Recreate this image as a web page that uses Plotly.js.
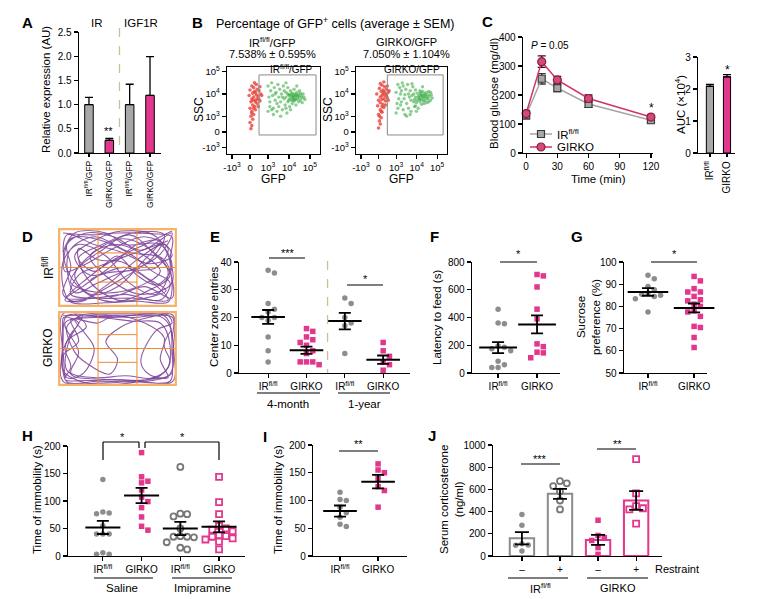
<!DOCTYPE html>
<html><head><meta charset="utf-8">
<script src="https://cdn.plot.ly/plotly-3.0.1.min.js"></script>
<style>html,body{margin:0;padding:0;background:#fff}#plot{width:760px;height:599px}</style>
</head><body><div id="plot"></div>
<script>
// ---------------- DATA ----------------
// A
const aLabels = ['IR<sup>fl/fl</sup>/GFP','GIRKO/GFP','IR<sup>fl/fl</sup>/GFP','GIRKO/GFP'];
const aValues = [1.0, 0.26, 1.0, 1.19];
const aErrors = [0.15, 0.04, 0.42, 0.80];
const aGroups = ['IR','IGF1R'];
// B (display units of biexponential scale)
const bTickText = ['-10<sup>3</sup>','0','10<sup>3</sup>','10<sup>4</sup>','10<sup>5</sup>'];
const bSubtitles = ['IR<sup>fl/fl</sup>/GFP','GIRKO/GFP'];
const bPercent = ['7.538% ± 0.595%','7.050% ± 1.104%'];
const bIrGreen = [[1.0,2.9],[1.05,2.2],[1.1,1.6],[1.0,1.3],[1.15,2.6],[1.2,3.1],[1.1,1.9],[1.25,2.3],[1.3,1.5],[1.35,2.8],[1.4,2.0],[1.3,1.1],[1.45,2.5],[1.5,1.8],[1.55,3.0],[1.6,2.2],[1.5,1.3],[1.65,2.7],[1.7,1.9],[1.75,2.4],[1.8,1.4],[1.85,2.9],[1.9,2.1],[1.95,1.7],[2.0,2.5],[2.0,2.2],[2.05,1.2],[2.1,2.8],[2.1,1.9],[2.15,2.35],[2.2,2.1],[2.2,1.6],[2.25,2.6],[2.3,2.25],[2.3,2.0],[2.35,1.8],[2.35,2.45],[2.4,2.15],[2.4,2.3],[2.45,1.95],[2.45,2.7],[2.5,2.2],[2.5,2.4],[2.55,2.05],[2.55,1.7],[2.6,2.3],[2.6,2.5],[2.65,2.1],[2.7,2.35],[2.7,1.9],[2.75,2.2],[2.8,2.45],[2.8,2.0],[2.85,2.3],[2.9,2.15],[2.95,2.4],[3.0,2.2],[3.05,2.05],[2.0,3.1],[1.7,1.0],[2.6,2.9],[2.25,1.4],[1.9,2.6],[2.15,2.0],[2.3,2.4],[2.45,2.25],[2.4,2.0],[2.2,2.3],[2.35,2.15],[2.5,2.05],[2.55,2.35],[2.65,2.25],[2.1,2.4],[1.6,1.6],[1.2,1.4],[1.4,2.4],[2.75,2.6],[2.9,1.85],[2.0,1.5],[1.8,2.2]];
const bIrRed = [[0.05,0.2],[0.1,0.4],[0.0,0.6],[0.15,0.8],[0.05,1.0],[0.2,1.1],[0.1,1.3],[0.3,1.4],[0.0,1.5],[0.25,1.6],[0.15,1.7],[0.4,1.8],[0.05,1.9],[0.3,2.0],[0.5,2.05],[0.1,2.1],[0.2,2.2],[0.45,2.25],[-0.05,2.3],[0.35,2.35],[0.6,2.4],[0.15,2.45],[0.25,2.55],[0.5,2.6],[0.0,2.65],[0.4,2.7],[0.2,2.8],[0.55,2.85],[0.1,2.9],[0.35,3.0],[0.25,3.1],[0.3,1.9],[0.2,1.5],[0.1,1.2],[0.4,2.1],[0.55,1.95],[0.65,2.3],[0.3,2.5],[0.15,2.0],[0.45,1.6]];
const bGkGreen = [[1.0,2.5],[1.05,1.8],[1.1,3.0],[1.0,1.2],[1.15,2.1],[1.2,2.8],[1.1,1.5],[1.25,2.4],[1.3,1.9],[1.35,3.1],[1.4,1.4],[1.3,2.6],[1.45,2.1],[1.5,1.1],[1.55,2.7],[1.6,1.8],[1.5,2.35],[1.65,3.0],[1.7,1.5],[1.75,2.2],[1.8,2.6],[1.85,1.3],[1.9,2.3],[1.95,2.85],[2.0,1.9],[2.0,2.4],[2.05,1.6],[2.1,2.2],[2.1,2.65],[2.15,1.85],[2.2,2.45],[2.2,2.0],[2.25,1.5],[2.3,2.3],[2.3,2.1],[2.35,2.6],[2.35,1.9],[2.4,2.4],[2.4,2.2],[2.45,2.05],[2.45,1.75],[2.5,2.3],[2.5,2.55],[2.55,2.15],[2.55,1.95],[2.6,2.4],[2.6,2.2],[2.65,2.0],[2.7,2.5],[2.7,2.25],[2.75,1.85],[2.8,2.35],[2.8,2.1],[2.85,2.55],[2.9,2.25],[2.95,2.0],[3.0,2.35],[3.05,2.15],[1.9,3.05],[1.6,1.0],[2.5,2.85],[2.15,1.3],[1.85,2.0],[2.25,2.2],[2.4,2.5],[2.45,2.3],[2.35,2.05],[2.6,1.8],[2.65,2.35],[2.75,2.15],[2.05,2.05],[1.7,2.4],[1.25,1.7],[1.4,2.9],[2.85,1.9],[2.95,2.5],[2.1,1.65],[1.8,1.1]];
const bGkRed = [[0.0,0.25],[0.1,0.5],[0.05,0.7],[0.15,0.9],[0.0,1.1],[0.2,1.25],[0.1,1.4],[0.3,1.55],[-0.05,1.65],[0.25,1.75],[0.1,1.85],[0.4,1.95],[0.0,2.0],[0.3,2.1],[0.5,2.15],[0.1,2.2],[0.2,2.3],[0.45,2.35],[-0.1,2.4],[0.35,2.45],[0.55,2.5],[0.15,2.55],[0.25,2.65],[0.45,2.7],[0.05,2.75],[0.35,2.85],[0.2,2.95],[0.5,2.9],[0.1,3.05],[0.3,3.15],[0.2,1.6],[0.15,1.3],[0.05,1.0],[0.4,2.25],[0.55,2.0],[0.6,2.6],[0.3,2.55],[0.2,2.05],[0.4,1.7],[0.25,2.4]];
// C
const cTime = [0, 15, 30, 60, 120];
const cIR = [130, 256, 224, 169, 113];
const cIRerr = [12, 18, 12, 12, 10];
const cGK = [136, 315, 252, 188, 124];
const cGKerr = [10, 20, 12, 12, 8];
const cNames = ['IR<sup>fl/fl</sup>','GIRKO'];
const cAUC = [2.08, 2.38];
const cAUCerr = [0.06, 0.07];
// D (open field tracks, arena units 3 x 2)
const dIRpath = [[0.1,1.9],[0.8,1.85],[1.5,1.9],[2.4,1.88],[2.9,1.8],[2.85,1.2],[2.9,0.4],[2.8,0.1],[2.0,0.12],[1.2,0.08],[0.3,0.1],[0.1,0.5],[0.12,1.2],[0.5,1.6],[1.2,1.3],[1.8,0.6],[2.5,0.3],[2.8,0.9],[2.3,1.5],[1.6,1.75],[0.9,1.4],[0.4,0.8],[0.8,0.3],[1.5,0.5],[2.1,1.1],[2.6,1.7],[2.0,1.6],[1.3,1.0],[0.6,0.5],[0.2,0.2],[0.9,0.2],[1.7,0.3],[2.6,0.15],[2.85,0.6],[2.4,0.9],[1.9,1.3],[1.1,1.7],[0.3,1.75],[0.15,0.9],[0.7,1.1],[1.4,1.5],[2.2,1.8],[2.8,1.5],[2.5,1.0],[1.7,0.9],[1.0,0.6],[0.4,0.35],[0.25,1.4],[0.9,1.8],[1.8,1.4],[2.7,1.2],[2.9,0.2],[2.2,0.5],[1.3,0.25],[0.6,0.9],[0.5,1.5],[1.0,1.2],[1.6,1.15],[2.3,0.7],[2.75,0.4],[2.2,0.2],[1.5,0.15],[0.8,0.65],[1.2,0.85],[1.9,0.95],[2.6,1.35],[2.9,1.9],[2.1,1.45],[1.4,1.8],[0.7,1.9],[0.2,1.6],[0.3,1.0],[0.1,0.3],[0.5,0.1],[1.1,0.4],[1.6,0.7],[2.4,1.25],[2.7,1.85],[1.9,1.9],[1.0,1.55],[0.5,1.25],[0.9,0.9],[1.5,1.3],[2.0,0.8],[2.5,0.55],[2.9,1.0],[2.6,1.6],[1.7,1.6],[1.2,1.9],[0.4,1.9],[0.1,1.4]];
const dIRpath2 = [[2.9,1.95],[2.2,1.6],[1.4,1.2],[0.7,0.7],[0.15,0.15],[0.6,0.15],[1.3,0.6],[2.0,1.2],[2.7,1.6],[2.9,1.3],[2.3,1.1],[1.6,1.4],[0.9,1.6],[0.2,1.85],[0.15,1.1],[0.6,0.4],[1.4,0.1],[2.3,0.4],[2.85,0.8],[2.4,1.4],[1.8,1.85],[1.1,1.45],[0.5,1.0],[0.3,0.6],[1.0,0.35],[1.9,0.45],[2.6,0.9],[2.2,1.3],[1.5,1.6],[0.8,1.3],[1.3,0.7],[2.1,0.3],[2.9,0.6],[2.5,1.8],[1.6,1.95],[0.9,1.7],[0.4,1.3],[0.8,0.8],[1.7,1.0],[2.4,0.6],[2.8,0.15],[1.9,0.2],[1.1,0.2],[0.3,0.3],[0.5,0.8],[1.2,1.1],[2.0,1.4],[2.8,1.7]];
const dGKpath = [[0.1,1.9],[0.8,1.92],[1.6,1.9],[2.5,1.92],[2.92,1.85],[2.9,1.2],[2.92,0.5],[2.85,0.1],[2.0,0.08],[1.0,0.1],[0.2,0.08],[0.08,0.6],[0.1,1.3],[0.12,1.85],[0.5,1.7],[0.3,1.4],[0.15,1.0],[0.3,0.5],[0.15,0.15],[0.7,0.12],[1.5,0.15],[2.4,0.12],[2.88,0.3],[2.9,0.9],[2.85,1.6],[2.6,1.88],[1.9,1.85],[1.2,1.88],[0.4,1.8],[0.6,1.5],[0.9,1.0],[0.6,0.3],[0.2,0.2],[0.1,0.8],[0.5,1.2],[0.3,1.8],[1.0,1.7],[1.4,1.9],[2.2,1.7],[2.7,1.3],[2.6,0.7],[2.8,0.2],[2.3,0.3],[2.1,0.65],[2.5,1.5],[2.9,1.7],[2.75,1.95],[2.0,1.95],[1.0,1.95],[0.1,1.95],[0.08,1.0],[0.1,0.1],[1.0,0.05],[2.0,0.1],[2.92,0.1],[2.94,1.0],[2.92,1.92],[2.3,1.85],[1.6,1.6],[1.2,1.2],[1.5,0.7],[1.3,0.3],[0.7,0.6],[0.4,0.9],[0.2,1.6],[0.6,1.9],[0.25,1.2],[0.2,0.4],[0.9,0.2],[1.7,0.25],[2.5,0.2],[2.85,0.6],[2.7,1.1],[2.88,1.5]];
const dGKpath2 = [[0.15,0.2],[0.1,1.5],[0.2,1.9],[1.3,1.85],[2.7,1.9],[2.9,1.4],[2.85,0.3],[2.3,0.15],[1.2,0.15],[0.3,0.3],[0.5,0.9],[0.15,1.7],[0.9,1.85],[1.9,1.75],[2.6,1.7],[2.85,1.1],[2.75,0.4],[1.8,0.05],[0.6,0.08],[0.1,0.4],[0.2,1.2],[0.7,1.6],[0.4,1.95]];
// E
const eLabels = ['IR<sup>fl/fl</sup>','GIRKO','IR<sup>fl/fl</sup>','GIRKO'];
const eIR4 = [37, 36, 25, 23, 22, 20, 20, 19, 13, 8, 4];
const eGK4 = [16, 15, 13, 12, 11, 10, 8, 7, 4, 4, 4, 3];
const eIR1 = [27, 25, 20, 18, 17, 7];
const eGK1 = [11, 8, 6, 4, 3, 1];
const eMean = [20.2, 8.2, 18.7, 4.8];
const eSem = [2.5, 1.3, 3.0, 1.5];
const eGroups = ['4-month','1-year'];
// F
const fLabels = ['IR<sup>fl/fl</sup>','GIRKO'];
const fIR = [460, 360, 355, 195, 185, 175, 160, 85, 60, 40, 40];
const fGK = [710, 700, 620, 460, 390, 210, 190, 150, 145, 110];
const fMean = [183, 350];
const fSem = [40, 65];
// G
const gIR = [94, 92.5, 89, 87.5, 86, 85.5, 85, 84.5, 83.5, 77.5];
const gGK = [93.5, 91.5, 88, 86.5, 86.5, 84.5, 83, 82.5, 81, 80, 78, 77.5, 75.5, 71, 70.5, 66, 61.5];
const gMean = [86.5, 79.3];
const gSem = [1.7, 2.0];
// H
const hIRsal = [139, 80, 78, 77, 55, 40, 40, 40, 6, 3, 3];
const hGKsal = [188, 144, 136, 133, 120, 107, 99, 88, 71, 54, 47];
const hIRimi = [162, 77, 76, 72, 50, 36, 35, 35, 34, 25, 15, 12];
const hGKimi = [144, 98, 76, 55, 50, 48, 45, 38, 36, 35, 32, 30, 26, 12];
const hMean = [52, 110, 50, 53];
const hSem = [12, 14, 12, 10];
const hGroups = ['Saline','Imipramine'];
// I
const iIR = [115, 102, 100, 88, 78, 70, 57, 53];
const iGK = [166, 155, 150, 140, 125, 118, 88];
const iMean = [81, 134];
const iSem = [10, 12];
// J
const jLabels = ['–','+','–','+'];
const jIRminus = [373, 277, 111, 100, 96, 45];
const jIRplus = [675, 655, 630, 580, 500, 420];
const jGKminus = [322, 185, 165, 140, 75, 15];
const jGKplus = [873, 565, 450, 430, 420, 292];
const jMean = [160, 560, 145, 500];
const jSem = [55, 45, 45, 85];
const jGroups = ['IR<sup>fl/fl</sup>','GIRKO'];

// ---------------- BUILD ----------------
const FONT = 'Liberation Sans, Arial, Helvetica, sans-serif';
const W = 760, H = 599;
const BARGRAY = '#a8a8a8', PINK = '#E2378D', DOTGRAY = '#8d8d8d';
const traces = [], annotations = [], shapes = [];
const layout = {width:W, height:H, margin:{l:0,r:0,t:0,b:0}, paper_bgcolor:'#fff', plot_bgcolor:'rgba(0,0,0,0)',
  font:{family:FONT, size:10, color:'#000'}, showlegend:false, annotations, shapes};
let nAx = 0;
function axes(x0, x1, xr, ytop, ybot, yr, xo, yo) {
  nAx++;
  const s = nAx === 1 ? '' : String(nAx);
  const base = {showline:true, linecolor:'#000', linewidth:1.3, ticks:'outside', ticklen:4, tickwidth:1.2, tickcolor:'#000',
    showgrid:false, zeroline:false, fixedrange:true, tickfont:{family:FONT, size:10, color:'#000'}};
  layout['xaxis'+s] = Object.assign({}, base, {domain:[x0/W, x1/W], range:xr, anchor:'y'+s}, xo||{});
  layout['yaxis'+s] = Object.assign({}, base, {domain:[1-ybot/H, 1-ytop/H], range:yr, anchor:'x'+s}, yo||{});
  return {x:'x'+s, y:'y'+s, sx:(x1-x0)/(xr[1]-xr[0]), sy:(ybot-ytop)/(yr[1]-yr[0])};
}
function txt(t, x, y, o) {
  const a = Object.assign({text:t, x:x/W, y:1-y/H, xref:'paper', yref:'paper', showarrow:false, xanchor:'center', yanchor:'middle'}, o||{});
  a.font = Object.assign({family:FONT, size:11, color:'#000'}, (o&&o.font)||{});
  annotations.push(a);
}
function ln(x0, y0, x1, y1, o) {
  shapes.push(Object.assign({type:'line', xref:'paper', yref:'paper', x0:x0/W, y0:1-y0/H, x1:x1/W, y1:1-y1/H, line:{color:'#000', width:1.2}}, o||{}));
}
function swarm(vals, center, sx, sy, d) {
  const placed = [], xs = new Array(vals.length);
  const order = vals.map((v,i)=>i).sort((a,b)=>vals[b]-vals[a]);
  for (const i of order) {
    const py = vals[i]*sy;
    let off = 0;
    for (let k = 0; k < 40; k++) {
      off = k === 0 ? 0 : (k % 2 ? 1 : -1) * Math.ceil(k/2) * d;
      if (placed.every(p => Math.hypot(p.x-off, p.y-py) >= d*0.95)) break;
    }
    placed.push({x:off, y:py});
    xs[i] = center + off/sx;
  }
  return xs;
}
function dots(ax, vals, pos, marker) {
  const d = (marker.size||5.5) + 0.8;
  traces.push({type:'scatter', mode:'markers', x:swarm(vals, pos, ax.sx, ax.sy, d), y:vals, xaxis:ax.x, yaxis:ax.y,
    marker:marker, showlegend:false, hoverinfo:'skip', cliponaxis:false});
}
function meanSem(ax, pos, means, sems, w) {
  traces.push({type:'scatter', mode:'markers', x:pos, y:means, xaxis:ax.x, yaxis:ax.y,
    marker:{symbol:'line-ew', size:w, color:'#000', line:{width:2, color:'#000'}},
    error_y:{type:'data', array:sems, visible:true, color:'#000', thickness:1.8, width:6},
    showlegend:false, hoverinfo:'skip', cliponaxis:false});
}
const filledGray = {symbol:'circle', size:5.5, color:DOTGRAY};
const filledPink = {symbol:'square', size:5.5, color:PINK};
const openGray = {symbol:'circle-open', size:6, color:'#777', line:{width:1.8, color:'#777'}};
const openPink = {symbol:'square-open', size:6, color:PINK, line:{width:1.8, color:PINK}};

// ---- Panel letters
[['A',28,23],['B',198,23],['C',487,22],['D',28,237],['E',215,237],['F',435,237],['G',577,237],['H',28,435],['I',265,436],['J',432,435]]
  .forEach(l => txt('<b>'+l[0]+'</b>', l[1], l[2], {font:{size:15}}));

// ---- A
const axA = axes(79, 161, [-0.49, 3.54], 32, 153, [0, 2.5],
  {tickvals:[0,1,2,3], ticktext:aLabels, tickangle:-90, ticklen:3, tickfont:{family:FONT,size:8.5,color:'#000'}},
  {tickvals:[0,0.5,1,1.5,2,2.5], tickformat:'.1f'});
traces.push({type:'bar', x:[0,1,2,3], y:aValues, width:0.42, xaxis:axA.x, yaxis:axA.y,
  marker:{color:[BARGRAY,PINK,BARGRAY,PINK], line:{color:'#000', width:1}},
  error_y:{type:'data', symmetric:false, array:aErrors, arrayminus:[0,0,0,0], color:'#000', thickness:1.3, width:4},
  showlegend:false, hoverinfo:'skip'});
shapes.push({type:'line', xref:axA.x, yref:'paper', x0:1.5, x1:1.5, y0:1-28/H, y1:1-153/H, line:{color:'#c9c09a', width:1.3, dash:'dash'}});
txt(aGroups[0], 97, 23, {font:{size:11.5}});
txt(aGroups[1], 141, 23, {font:{size:11.5}});
txt('**', 108, 131, {font:{size:11}});
txt('Relative expression (AU)', 46, 90, {textangle:-90, font:{size:11.5}});

// ---- B
const bxTicks = [-1, 0, 1, 2.17, 3.33], byTicks = [-1, 0, 0.97, 2.4, 3.8];
function flow(x0, x1, green, red, sub, pct, cx) {
  const ax = axes(x0, x1, [-1.28, 3.89], 67, 154, [-1.39, 4.1],
    {tickvals:bxTicks, ticktext:bTickText, mirror:true, tickfont:{family:FONT,size:9.5,color:'#000'}},
    {tickvals:byTicks, ticktext:bTickText, mirror:true, tickfont:{family:FONT,size:9.5,color:'#000'}});
  traces.push({type:'scatter', mode:'markers', x:red.map(p=>p[0]), y:red.map(p=>p[1]), xaxis:ax.x, yaxis:ax.y,
    marker:{size:3.6, color:'#e8453c', opacity:0.8}, showlegend:false, hoverinfo:'skip'});
  traces.push({type:'scatter', mode:'markers', x:green.map(p=>p[0]), y:green.map(p=>p[1]), xaxis:ax.x, yaxis:ax.y,
    marker:{size:3.4, color:'#3fae49', opacity:0.6}, showlegend:false, hoverinfo:'skip'});
  shapes.push({type:'rect', xref:ax.x, yref:ax.y, x0:0.5, x1:3.67, y0:-0.19, y1:3.6, line:{color:'#8a8a8a', width:1}});
  annotations.push({text:sub, xref:ax.x, yref:ax.y, x:3.62, y:3.45, xanchor:'right', yanchor:'bottom', showarrow:false, font:{family:FONT,size:10,color:'#000'}});
  txt(sub, cx, 42, {font:{size:11}});
  txt(pct, cx, 54, {font:{size:11}});
  txt('GFP', (x0+x1)/2, 179, {font:{size:12}});
  txt('SSC', x0-28, 110, {textangle:-90, font:{size:12}});
}
flow(227, 320, bIrGreen, bIrRed, bSubtitles[0], bPercent[0], 272);
flow(356, 447, bGkGreen, bGkRed, bSubtitles[1], bPercent[1], 406);
txt('Percentage of GFP<sup>+</sup> cells (average ± SEM)', 335, 23, {font:{size:12.5}});

// ---- C
const axC = axes(523, 653, [-3, 122], 37, 153, [0, 400], {tickvals:[0,30,60,90,120]}, {tickvals:[0,100,200,300,400]});
const cStyles = [
  {line:{color:'#a5a5a5', width:1.5}, marker:{symbol:'square', size:7, color:'#a8a8a8', line:{color:'#3a3a3a', width:1.2}}, err:'#333'},
  {line:{color:'#d1336c', width:1.5}, marker:{symbol:'circle', size:8, color:'#d4497c', line:{color:'#8e1d45', width:1.2}}, err:'#3a1020'}];
[[cIR, cIRerr], [cGK, cGKerr]].forEach((s, i) => {
  traces.push({type:'scatter', mode:'lines+markers', name:cNames[i], x:cTime, y:s[0], xaxis:axC.x, yaxis:axC.y,
    line:cStyles[i].line, marker:cStyles[i].marker,
    error_y:{type:'data', array:s[1], color:cStyles[i].err, thickness:1.3, width:4}, hoverinfo:'skip', cliponaxis:false, showlegend:false});
});
// manual legend (compact)
const axL = axes(530, 552, [0, 1], 128, 153, [0, 1], {visible:false}, {visible:false});
[0.76, 0.24].forEach((yy, i) => {
  traces.push({type:'scatter', mode:'lines', x:[0,1], y:[yy,yy], xaxis:axL.x, yaxis:axL.y, line:cStyles[i].line, showlegend:false, hoverinfo:'skip', cliponaxis:false});
  traces.push({type:'scatter', mode:'markers', x:[0.5], y:[yy], xaxis:axL.x, yaxis:axL.y, marker:cStyles[i].marker, showlegend:false, hoverinfo:'skip', cliponaxis:false});
  txt(cNames[i], 555, i === 0 ? 134 : 147, {xanchor:'left', font:{size:11.5}});
});
txt('<i>P</i> = 0.05', 550, 45, {font:{size:10}});
txt('*', 651, 108, {font:{size:12}});
txt('Blood glucose (mg/dl)', 494, 94, {textangle:-90, font:{size:11.5}});
txt('Time (min)', 598, 179, {font:{size:11.5}});
const axC2 = axes(698, 735, [-0.7, 1.47], 57, 153, [0, 3],
  {tickvals:[0,1], ticktext:cNames, tickangle:-90, ticklen:3, tickfont:{family:FONT,size:10,color:'#000'}},
  {tickvals:[0,1,2,3]});
traces.push({type:'bar', x:[0,1], y:cAUC, width:0.42, xaxis:axC2.x, yaxis:axC2.y,
  marker:{color:[BARGRAY,PINK], line:{color:'#000', width:1}},
  error_y:{type:'data', symmetric:false, array:cAUCerr, arrayminus:[0,0], color:'#000', thickness:1.3, width:4},
  showlegend:false, hoverinfo:'skip'});
txt('*', 727, 70, {font:{size:12}});
txt('AUC (×10<sup>4</sup>)', 680, 105, {textangle:-90, font:{size:11.5}});

// ---- D
function arena(ytop, ybot, paths) {
  const ax = axes(58, 177, [-0.03, 3.03], ytop, ybot, [-0.03, 2.03], {visible:false}, {visible:false});
  paths.forEach(path => traces.push({type:'scatter', mode:'lines', x:path.map(p=>p[0]), y:path.map(p=>p[1]), xaxis:ax.x, yaxis:ax.y,
    line:{color:'#7a3d96', width:1.1, shape:'spline', smoothing:1.0}, opacity:0.85, showlegend:false, hoverinfo:'skip'}));
  const oc = '#ee8a30';
  [[1,0,1,2],[2,0,2,2],[0,1,3,1],[1,0.62,2,0.62],[1,1.38,2,1.38]].forEach(s =>
    shapes.push({type:'line', xref:ax.x, yref:ax.y, x0:s[0], y0:s[1], x1:s[2], y1:s[3], line:{color:oc, width:1}}));
  shapes.push({type:'rect', xref:ax.x, yref:ax.y, x0:0, x1:3, y0:0, y1:2, line:{color:'#f6b267', width:2.2}});
}
arena(228, 307, [dIRpath, dIRpath2]);
arena(311, 386, [dGKpath, dGKpath2]);
txt('IR<sup>fl/fl</sup>', 48, 268, {textangle:-90, font:{size:12}});
txt('GIRKO', 48, 348, {textangle:-90, font:{size:12}});

// ---- E
const axE = axes(239, 410, [-0.76, 3.7], 262, 373, [0, 40], {tickvals:[0,1,2,3], ticktext:eLabels}, {tickvals:[0,10,20,30,40]});
dots(axE, eIR4, 0, filledGray); dots(axE, eGK4, 1, filledPink);
dots(axE, eIR1, 2, filledGray); dots(axE, eGK1, 3, filledPink);
meanSem(axE, [0,1,2,3], eMean, eSem, 24);
shapes.push({type:'line', xref:axE.x, yref:'paper', x0:1.55, x1:1.55, y0:1-261/H, y1:1-373/H, line:{color:'#c9c09a', width:1.3, dash:'dash'}});
txt('***', 288, 253, {font:{size:11}}); ln(269, 258, 305, 258);
txt('*', 365, 279, {font:{size:11}}); ln(347, 285, 383, 285);
ln(257, 393, 320, 393); ln(338, 393, 390, 393);
txt(eGroups[0], 288, 404, {font:{size:11.5}}); txt(eGroups[1], 364, 404, {font:{size:11.5}});
txt('Center zone entries', 214, 317, {textangle:-90, font:{size:11.5}});

// ---- F
const axF = axes(472, 560, [-0.67, 1.59], 262, 373, [0, 800], {tickvals:[0,1], ticktext:fLabels}, {tickvals:[0,200,400,600,800]});
dots(axF, fIR, 0, filledGray); dots(axF, fGK, 1, filledPink);
meanSem(axF, [0,1], fMean, fSem, 27);
txt('*', 518, 254, {font:{size:11}}); ln(500, 262, 537, 262);
txt('Latency to feed (s)', 437, 317, {textangle:-90, font:{size:11.5}});

// ---- G
const axG = axes(624, 707, [-0.52, 1.28], 262, 373, [50, 100], {tickvals:[0,1], ticktext:fLabels}, {tickvals:[50,60,70,80,90,100]});
dots(axG, gIR, 0, filledGray); dots(axG, gGK, 1, filledPink);
meanSem(axG, [0,1], gMean, gSem, 29);
txt('*', 674, 254, {font:{size:11}}); ln(651, 262, 697, 262);
txt('Sucrose<br>preference (%)', 588, 317, {textangle:-90, font:{size:11.5}});

// ---- H
const axH = axes(68, 245, [-0.9, 3.67], 446, 556, [0, 200], {tickvals:[0,1,2,3], ticktext:eLabels}, {tickvals:[0,50,100,150,200]});
dots(axH, hIRsal, 0, filledGray); dots(axH, hGKsal, 1, filledPink);
dots(axH, hIRimi, 2, openGray); dots(axH, hGKimi, 3, openPink);
meanSem(axH, [0,1,2,3], hMean, hSem, 25);
[[103,460,103,442],[103,442,139,442],[139,442,139,448],[145,448,145,442],[145,442,219,442],[219,442,219,460]].forEach(s=>ln(s[0],s[1],s[2],s[3]));
txt('*', 122, 437, {font:{size:11}}); txt('*', 182, 437, {font:{size:11}});
ln(94, 578, 153, 578); ln(172, 578, 232, 578);
txt(hGroups[0], 122, 588, {font:{size:11.5}}); txt(hGroups[1], 202, 588, {font:{size:11.5}});
txt('Time of immobility (s)', 37, 500, {textangle:-90, font:{size:11.5}});

// ---- I
const axI = axes(313, 407, [-0.71, 1.76], 445, 556, [0, 200], {tickvals:[0,1], ticktext:fLabels}, {tickvals:[0,50,100,150,200]});
dots(axI, iIR, 0, filledGray); dots(axI, iGK, 1, filledPink);
meanSem(axI, [0,1], iMean, iSem, 24);
txt('**', 358, 444, {font:{size:11}}); ln(339, 451, 378, 451);
txt('Time of immobility (s)', 278, 500, {textangle:-90, font:{size:11.5}});

// ---- J
const axJ = axes(493, 662, [-0.76, 3.68], 445, 556, [0, 1000], {tickvals:[0,1,2,3], ticktext:jLabels}, {tickvals:[0,200,400,600,800,1000]});
traces.push({type:'bar', x:[0,1,2,3], y:jMean, width:0.64, xaxis:axJ.x, yaxis:axJ.y,
  marker:{color:'rgba(255,255,255,0)', line:{color:['#8c8c8c','#8c8c8c',PINK,PINK], width:2}},
  showlegend:false, hoverinfo:'skip'});
dots(axJ, jIRminus, 0, filledGray); dots(axJ, jIRplus, 1, openGray);
dots(axJ, jGKminus, 2, filledPink); dots(axJ, jGKplus, 3, openPink);
traces.push({type:'scatter', mode:'markers', x:[0,1,2,3], y:jMean, xaxis:axJ.x, yaxis:axJ.y,
  marker:{size:1, color:'rgba(0,0,0,0)'},
  error_y:{type:'data', array:jSem, color:'#000', thickness:1.8, width:7}, showlegend:false, hoverinfo:'skip'});
txt('***', 540, 459, {font:{size:11}}); ln(521, 464, 560, 464);
txt('**', 617, 444, {font:{size:11}}); ln(597, 449, 636, 449);
txt('Restraint', 677, 569, {font:{size:11}});
ln(508, 578, 568, 578); ln(587, 578, 648, 578);
txt(jGroups[0], 540, 588, {font:{size:11}}); txt(jGroups[1], 618, 588, {font:{size:11}});
txt('Serum corticosterone<br>(ng/ml)', 451, 500, {textangle:-90, font:{size:11.5}});

Plotly.newPlot('plot', traces, layout, {staticPlot:true, displayModeBar:false});
</script>
</body></html>
